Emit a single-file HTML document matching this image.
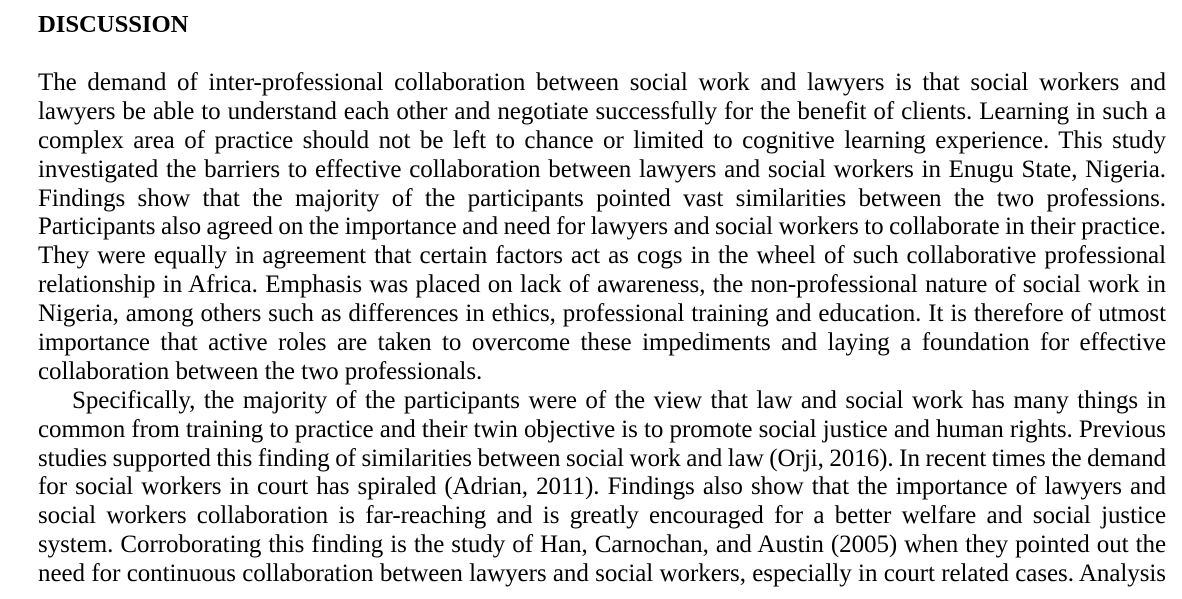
<!DOCTYPE html>
<html>
<head>
<meta charset="utf-8">
<style>
  html,body{margin:0;padding:0;background:#fff;}
  body{width:1182px;height:599px;overflow:hidden;position:relative;font-family:"Liberation Serif",serif;color:#000;}
  h1{position:absolute;left:38px;top:10px;margin:0;font-size:24.7px;font-weight:bold;line-height:30px;letter-spacing:-0.05px;}
  .body{position:absolute;left:38px;top:69px;width:1128px;font-size:25px;line-height:28.9px;letter-spacing:-0.05px;word-spacing:-1.6px;}
  .ln{text-align:justify;text-align-last:justify;white-space:nowrap;height:28.9px;}
  .last{text-align-last:left;word-spacing:0;}
  .ind{padding-left:34px;}
</style>
</head>
<body>
<h1>DISCUSSION</h1>
<div class="body">
  <div>
    <div class="ln">The demand of inter-professional collaboration between social work and lawyers is that social workers and</div>
    <div class="ln">lawyers be able to understand each other and negotiate successfully for the benefit of clients. Learning in such a</div>
    <div class="ln">complex area of practice should not be left to chance or limited to cognitive learning experience. This study</div>
    <div class="ln">investigated the barriers to effective collaboration between lawyers and social workers in Enugu State, Nigeria.</div>
    <div class="ln">Findings show that the majority of the participants pointed vast similarities between the two professions.</div>
    <div class="ln">Participants also agreed on the importance and need for lawyers and social workers to collaborate in their practice.</div>
    <div class="ln">They were equally in agreement that certain factors act as cogs in the wheel of such collaborative professional</div>
    <div class="ln">relationship in Africa. Emphasis was placed on lack of awareness, the non-professional nature of social work in</div>
    <div class="ln">Nigeria, among others such as differences in ethics, professional training and education. It is therefore of utmost</div>
    <div class="ln">importance that active roles are taken to overcome these impediments and laying a foundation for effective</div>
    <div class="ln last">collaboration between the two professionals.</div>
  </div>
  <div>
    <div class="ln ind">Specifically, the majority of the participants were of the view that law and social work has many things in</div>
    <div class="ln">common from training to practice and their twin objective is to promote social justice and human rights. Previous</div>
    <div class="ln">studies supported this finding of similarities between social work and law (Orji, 2016). In recent times the demand</div>
    <div class="ln">for social workers in court has spiraled (Adrian, 2011). Findings also show that the importance of lawyers and</div>
    <div class="ln">social workers collaboration is far-reaching and is greatly encouraged for a better welfare and social justice</div>
    <div class="ln">system. Corroborating this finding is the study of Han, Carnochan, and Austin (2005) when they pointed out the</div>
    <div class="ln">need for continuous collaboration between lawyers and social workers, especially in court related cases. Analysis</div>
  </div>
</div>
</body>
</html>
